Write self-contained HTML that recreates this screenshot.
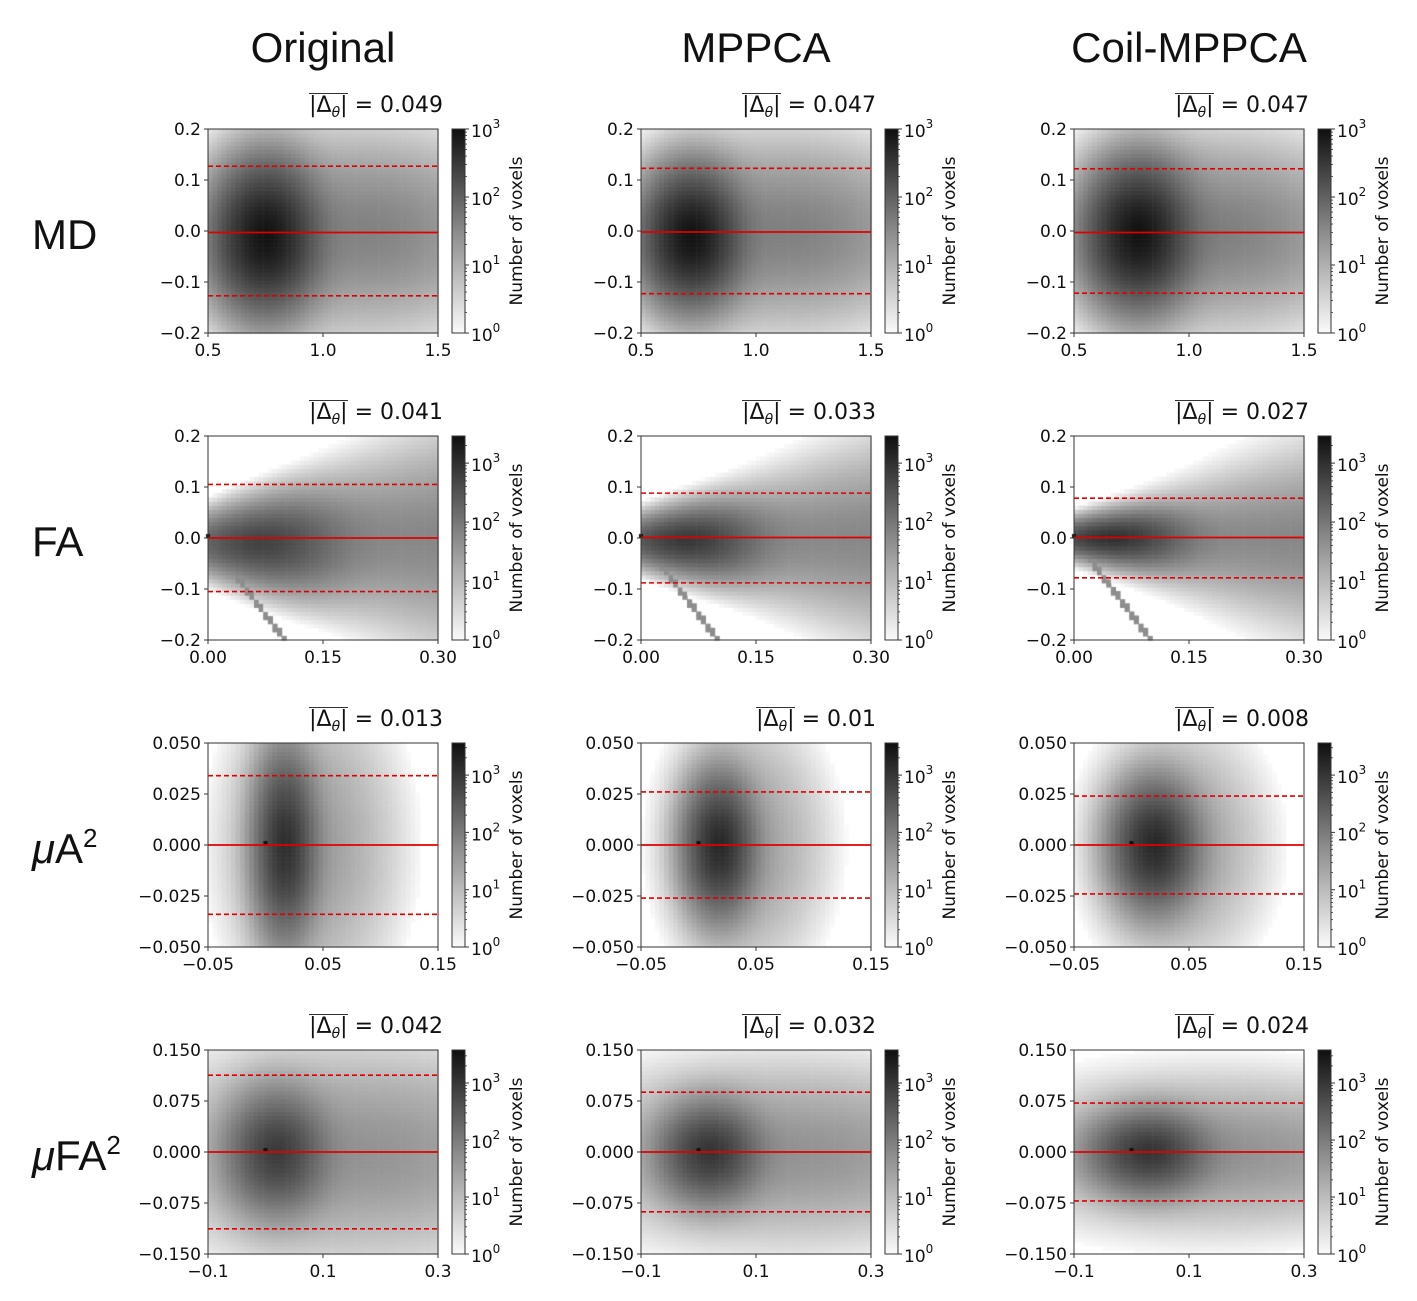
<!DOCTYPE html>
<html><head><meta charset="utf-8">
<style>
html,body{margin:0;padding:0;background:#fff;}
#wrap{position:relative;width:1417px;height:1301px;overflow:hidden;}
canvas,svg{position:absolute;left:0;top:0;}
.ttl{position:absolute;font-family:"DejaVu Sans","Liberation Sans",sans-serif;font-size:22px;color:#111;white-space:nowrap;text-align:right;line-height:26px;}
.ol{display:inline-block;border-top:1.5px solid #333;line-height:22px;padding-top:1px;}
.th{font-size:14px;font-style:italic;position:relative;top:5px;}
</style></head>
<body>
<div id="wrap">
<canvas id="cv" width="1417" height="1301"></canvas>
<svg id="sv" width="1417" height="1301" xmlns="http://www.w3.org/2000/svg"></svg>
</div>
<script>
// ---- data ----
const colTitles = ["Original","MPPCA","Coil-MPPCA"];
const rowTitles = ["MD","FA","A2","FA2"];
const xRanges = [[0.5,1.5],[0,0.3],[-0.05,0.15],[-0.1,0.3]];
const yRanges = [[-0.2,0.2],[-0.2,0.2],[-0.05,0.05],[-0.15,0.15]];
const xTicks = [[0.5,1.0,1.5],[0,0.15,0.3],[-0.05,0.05,0.15],[-0.1,0.1,0.3]];
const xTickLabels = [["0.5","1.0","1.5"],["0.00","0.15","0.30"],["\u22120.05","0.05","0.15"],["\u22120.1","0.1","0.3"]];
const yTicks = [[-0.2,-0.1,0,0.1,0.2],[-0.2,-0.1,0,0.1,0.2],[-0.05,-0.025,0,0.025,0.05],[-0.15,-0.075,0,0.075,0.15]];
const yTickLabels = [["\u22120.2","\u22120.1","0.0","0.1","0.2"],["\u22120.2","\u22120.1","0.0","0.1","0.2"],
 ["\u22120.050","\u22120.025","0.000","0.025","0.050"],["\u22120.150","\u22120.075","0.000","0.075","0.150"]];
const meanAbs = [["0.049","0.047","0.047"],["0.041","0.033","0.027"],["0.013","0.01","0.008"],["0.042","0.032","0.024"]];
const dashLevels = [[0.127,0.123,0.122],[0.105,0.088,0.078],[0.034,0.026,0.024],[0.113,0.088,0.072]];
const solidLevels = [[-0.003,-0.002,-0.003],[0,0.001,0.001],[0,0,0],[0,0,0]];
const cbarMax = [3.0,3.46,3.56,3.58];
const diagSlope = [null,-2,null,null];
// density components per panel: [cx, cy, sx, sy0, syk, amplitude]
const coreComp = [
 [[0.75,-0.01,0.08,0.05,0,900],[0.72,-0.01,0.075,0.045,0,900],[0.78,-0.005,0.08,0.048,0,900]],
 [[0.07,-0.01,0.04,0.02,0.1,500],[0.06,-0.005,0.035,0.016,0.08,700],[0.05,0,0.035,0.012,0.07,900]],
 [[0.017,0,0.009,0.015,0,1200],[0.018,0,0.01,0.011,0,1500],[0.02,0,0.012,0.01,0,1500]],
 [[0.02,0,0.03,0.03,0,800],[0.02,0,0.03,0.024,0,1000],[0.03,0,0.035,0.02,0,1000]]];
const broadComp = [
 [[1.2,0,0.27,0.08,0,32],[1.15,0,0.27,0.075,0,34],[1.15,0,0.27,0.075,0,34]],
 [[0.3,0,0.2,0.02,0.18,45],[0.3,0,0.2,0.018,0.16,45],[0.3,0,0.2,0.016,0.15,45]],
 [[0.04,0,0.03,0.03,0,25],[0.04,0,0.028,0.024,0,25],[0.04,0,0.03,0.022,0,25]],
 [[0.17,0,0.14,0.06,0,35],[0.17,0,0.15,0.05,0,35],[0.17,0,0.15,0.042,0,35]]];
const haloComp = [
 [[1.0,0,0.5,0.15,0,2],[1.0,0,0.5,0.15,0,2],[1.0,0,0.5,0.15,0,2]],
 [[0.3,0,0.2,0.03,0.45,3],[0.3,0,0.2,0.03,0.42,3],[0.3,0,0.2,0.03,0.42,3]],
 [[0.04,0,0.05,0.05,0,2],[0.04,0,0.045,0.045,0,2],[0.04,0,0.05,0.045,0,2]],
 [[0.1,0,0.25,0.12,0,2],[0.1,0,0.25,0.11,0,2],[0.1,0,0.25,0.1,0,2]]];

// ---- layout ----
const colLeft=[208,641,1074], rowTop=[129,436,743,1050], PW=230, PH=204, NB=50;
const sv=document.getElementById('sv'), ctx=document.getElementById('cv').getContext('2d');
const NS="http://www.w3.org/2000/svg";
function mk(tag,attrs,parent){const e=document.createElementNS(NS,tag);for(const k in attrs)e.setAttribute(k,attrs[k]);(parent||sv).appendChild(e);return e;}
function txt(s,x,y,size,anchor,parent){const t=mk('text',{x:x,y:y,'font-size':size,'text-anchor':anchor||'middle','font-family':'DejaVu Sans, Liberation Sans, sans-serif',fill:'#111'},parent);t.textContent=s;return t;}
function comp(c,x,y,x0,p){const sy=c[3]+c[4]*(x-x0);if(sy<=0)return 0;const dx=(x-c[0])/c[2],dy=(y-c[1])/sy;return c[5]*Math.exp(-0.5*Math.pow(dx*dx+dy*dy,p/2));}

colTitles.forEach((t,c)=>{const e=txt(t,colLeft[c]+115,62,42,'middle');e.setAttribute('font-family','Liberation Sans, sans-serif');

});
rowTitles.forEach((t,r)=>{const y=rowTop[r]+PH/2+18;const e=mk('text',{x:32,y:y,'font-size':42,'font-family':'Liberation Sans, sans-serif',fill:'#111'});
if(t==='MD'||t==='FA'){e.textContent=t;}else{
 const m=mk('tspan',{'font-style':'italic'},e);m.textContent='\u03bc';
 const a=mk('tspan',{},e);a.textContent=t.replace('2','');
 const s=mk('tspan',{'font-size':26,dy:-16},e);s.textContent='2';}

});

for(let r=0;r<4;r++)for(let c=0;c<3;c++){
 const L=colLeft[c],T=rowTop[r],[x0,x1]=xRanges[r],[y0,y1]=yRanges[r];
 const sx=v=>L+(v-x0)/(x1-x0)*PW, sy=v=>T+PH-(v-y0)/(y1-y0)*PH;
 const g=mk('g',{});
 
 
 const cw=PW/NB,ch=PH/NB;
 for(let i=0;i<NB;i++)for(let j=0;j<NB;j++){
  const x=x0+(i+0.5)*(x1-x0)/NB, y=y0+(j+0.5)*(y1-y0)/NB;
  let d=comp(coreComp[r][c],x,y,x0,1.6)+comp(broadComp[r][c],x,y,x0,1.7)+comp(haloComp[r][c],x,y,x0,2);
  if(diagSlope[r]!==null){const yd=diagSlope[r]*x;if(Math.abs(y-yd)<(y1-y0)/NB*0.9&&x>0)d=Math.max(d,40);}
  if(d<1)continue;
  let v=Math.min(1,Math.log10(d)/cbarMax[r]);
  const gr=Math.round(250-235*v);
  ctx.fillStyle='rgb('+gr+','+gr+','+gr+')';
  ctx.fillRect(L+i*cw,T+PH-(j+1)*ch,cw+0.6,ch+0.6);
 }
 if(r>0){ctx.fillStyle='#111';ctx.fillRect(sx(0)-2,sy(0)-4,4,4);}
 const fr=mk('rect',{x:L,y:T,width:PW,height:PH,fill:'none',stroke:'#333','stroke-width':1},g);
 
 
 const sl=mk('line',{x1:L,x2:L+PW,y1:sy(solidLevels[r][c]),y2:sy(solidLevels[r][c]),stroke:'#e00000','stroke-width':1.8},g);
 
 
 [1,-1].forEach(s=>{const dl=mk('line',{x1:L,x2:L+PW,y1:sy(s*dashLevels[r][c]),y2:sy(s*dashLevels[r][c]),stroke:'#e00000','stroke-width':1.6,'stroke-dasharray':'5,3'},g);
  
  });
 xTicks[r].forEach((v,k)=>{mk('line',{x1:sx(v),x2:sx(v),y1:T+PH,y2:T+PH+4,stroke:'#333'},g);
  const t=txt(xTickLabels[r][k],sx(v),T+PH+23,17,'middle',g);
  
  });
 yTicks[r].forEach((v,k)=>{mk('line',{x1:L-4,x2:L,y1:sy(v),y2:sy(v),stroke:'#333'},g);
  const t=txt(yTickLabels[r][k],L-7,sy(v)+6,17,'end',g);
  
  });
 const CX=L+244,CW=13;
 const gid='gr'+r+c;const defs=mk('defs',{},g);const lg=mk('linearGradient',{id:gid,x1:0,y1:1,x2:0,y2:0},defs);
 mk('stop',{offset:0,'stop-color':'#fafafa'},lg);mk('stop',{offset:0.5,'stop-color':'#8a8a8a'},lg);mk('stop',{offset:1,'stop-color':'#0f0f0f'},lg);
 const cb=mk('rect',{x:CX,y:T,width:CW,height:PH,fill:'url(#'+gid+')',stroke:'#333','stroke-width':1},g);
 
 
 const cy=e=>T+PH-e/cbarMax[r]*PH;
 for(let e=0;e<=3;e++){
  mk('line',{x1:CX+CW,x2:CX+CW+4,y1:cy(e),y2:cy(e),stroke:'#333'},g);
  const t=mk('text',{x:CX+CW+6,y:cy(e)+8,'font-size':17,'font-family':'DejaVu Sans, sans-serif',fill:'#111'},g);
  t.textContent='10';const sp=mk('tspan',{'font-size':12,dy:-9},t);sp.textContent=String(e);
  
  
  for(let m=2;m<10;m++){const le=e+Math.log10(m);if(le<cbarMax[r])mk('line',{x1:CX+CW,x2:CX+CW+2,y1:cy(le),y2:cy(le),stroke:'#333','stroke-width':0.8},g);}
 }
 const cl=txt('Number of voxels',0,0,17,'middle',g);
 cl.setAttribute('transform','translate('+(CX+CW+57)+','+(T+PH/2)+') rotate(-90)');
 
 
 const d=document.createElement('div');d.className='ttl';
 d.style.right=(1417-(L+PW+5))+'px';d.style.top=(T-36)+'px';
 d.innerHTML='<span class="ol">|\u0394<span class="th">\u03b8</span>|</span> = '+meanAbs[r][c];
 
 
 document.getElementById('wrap').appendChild(d);
}
</script>
</body></html>
